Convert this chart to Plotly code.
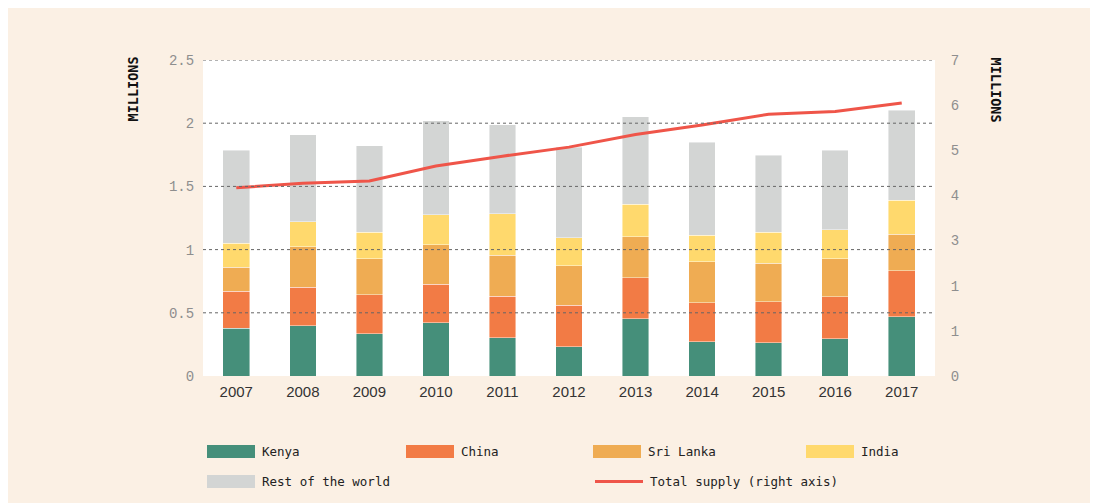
import plotly.graph_objects as go

years = ["2007", "2008", "2009", "2010", "2011", "2012", "2013", "2014", "2015", "2016", "2017"]
kenya = [0.377, 0.398, 0.335, 0.422, 0.303, 0.232, 0.453, 0.272, 0.264, 0.295, 0.469]
china = [0.295, 0.306, 0.306, 0.303, 0.327, 0.327, 0.325, 0.308, 0.324, 0.332, 0.362]
sri_lanka = [0.190, 0.317, 0.285, 0.314, 0.327, 0.314, 0.324, 0.324, 0.306, 0.299, 0.292]
india = [0.190, 0.200, 0.211, 0.235, 0.325, 0.221, 0.256, 0.211, 0.243, 0.231, 0.267]
rest_world = [0.736, 0.686, 0.685, 0.746, 0.707, 0.715, 0.693, 0.736, 0.611, 0.631, 0.714]
total_supply = [4.17, 4.27, 4.32, 4.65, 4.87, 5.07, 5.35, 5.56, 5.80, 5.86, 6.05]

left_ticks = [0, 0.5, 1, 1.5, 2, 2.5]
left_ticktext = ["0", "0.5", "1", "1.5", "2", "2.5"]
right_ticks = [0, 1, 2, 3, 4, 5, 6, 7]
right_ticktext = ["0", "1", "1", "3", "4", "5", "6", "7"]

series = [
    ("Kenya", kenya, "#458F7A"),
    ("China", china, "#F27B45"),
    ("Sri Lanka", sri_lanka, "#EFAC53"),
    ("India", india, "#FFD96D"),
    ("Rest of the world", rest_world, "#D3D5D4"),
]
line_name = "Total supply (right axis)"
line_color = "#EF5549"
BG = "#FBF0E4"

OFF = 8  # page body margin
W, H = 1090, 495
L, R, T, B = 203 - OFF, 935 - OFF, 60 - OFF, 376 - OFF


def px(x):
    return (x - OFF - L) / (R - L)


def py(y):
    return (B - (y - OFF)) / (B - T)


fig = go.Figure()
for name, vals, col in series:
    fig.add_trace(go.Bar(
        x=years, y=vals, name=name, marker_color=col,
        marker_line=dict(color="rgba(255,255,255,0.55)", width=0.8),
        showlegend=False, yaxis="y",
    ))
fig.add_trace(go.Scatter(
    x=years, y=total_supply, name=line_name, mode="lines",
    line=dict(color=line_color, width=3), yaxis="y2", showlegend=False,
))

shapes = []
for v in left_ticks[1:]:
    shapes.append(dict(type="line", xref="paper", yref="y", x0=0, x1=1, y0=v, y1=v,
                       line=dict(color="#666666", width=1, dash="dot"), layer="above"))

annotations = []
legend_items = [
    ("Kenya", "#458F7A", 207, 451.5, "bar"),
    ("China", "#F27B45", 406, 451.5, "bar"),
    ("Sri Lanka", "#EFAC53", 593, 451.5, "bar"),
    ("India", "#FFD96D", 806, 451.5, "bar"),
    ("Rest of the world", "#D3D5D4", 207, 481.5, "bar"),
    (line_name, line_color, 595, 481.5, "line"),
]
for text, col, x0, yc, kind in legend_items:
    if kind == "bar":
        shapes.append(dict(type="rect", xref="paper", yref="paper",
                           x0=px(x0), x1=px(x0 + 48), y0=py(yc + 6.5), y1=py(yc - 6.5),
                           fillcolor=col, line=dict(width=0), layer="above"))
    else:
        shapes.append(dict(type="line", xref="paper", yref="paper",
                           x0=px(x0), x1=px(x0 + 48), y0=py(yc), y1=py(yc),
                           line=dict(color=col, width=3), layer="above"))
    annotations.append(dict(text=text, xref="paper", yref="paper", x=px(x0 + 53), y=py(yc),
                            xanchor="left", yanchor="middle", showarrow=False,
                            font=dict(family="DejaVu Sans Mono", size=12.5, color="#222222")))

annotations.append(dict(text="<b>MILLIONS</b>", xref="paper", yref="paper", x=px(133), y=py(55),
                        xanchor="center", yanchor="top", textangle=-90, showarrow=False,
                        font=dict(family="DejaVu Sans Mono", size=13.5, color="#111111")))
annotations.append(dict(text="<b>MILLIONS</b>", xref="paper", yref="paper", x=px(995), y=py(55),
                        xanchor="center", yanchor="top", textangle=90, showarrow=False,
                        font=dict(family="DejaVu Sans Mono", size=13.5, color="#111111")))

fig.update_layout(
    width=W, height=H,
    barmode="stack", bargap=0.6,
    paper_bgcolor=BG, plot_bgcolor="white",
    margin=dict(l=L, r=W - R, t=T, b=H - B, pad=0),
    showlegend=False,
    xaxis=dict(type="category", showgrid=False, zeroline=False, showline=False,
               ticks="outside", ticklen=2, tickcolor="rgba(0,0,0,0)",
               tickfont=dict(family="Liberation Sans", size=15, color="#333333")),
    yaxis=dict(range=[0, 2.5], tickvals=left_ticks, ticktext=left_ticktext,
               showgrid=False, zeroline=False, showline=False,
               ticks="outside", ticklen=5, tickcolor="rgba(0,0,0,0)",
               tickfont=dict(family="Liberation Mono", size=14, color="#8E8E8E")),
    yaxis2=dict(range=[0, 7], tickvals=right_ticks, ticktext=right_ticktext,
                overlaying="y", side="right", showgrid=False, zeroline=False, showline=False,
                ticks="outside", ticklen=12, tickcolor="rgba(0,0,0,0)",
                tickfont=dict(family="Liberation Mono", size=14, color="#8E8E8E")),
    shapes=shapes,
    annotations=annotations,
)

fig.write_html("out.html")
